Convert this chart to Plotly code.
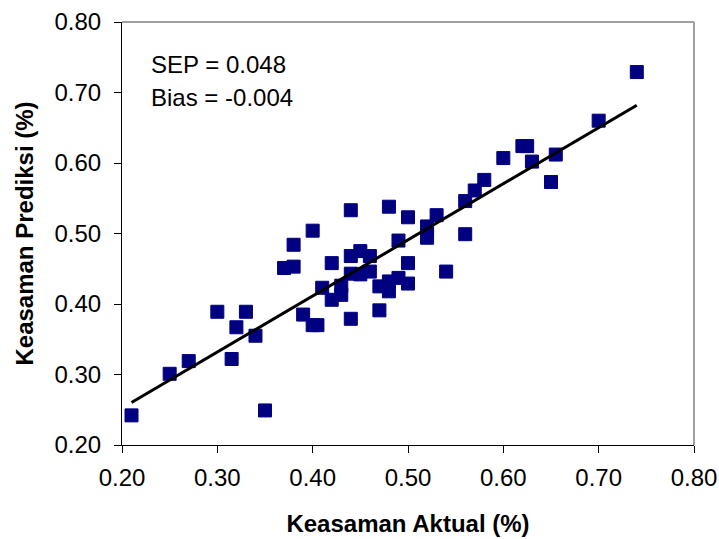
import numpy as np
import plotly.graph_objects as go

# Data
aktual = [0.21, 0.25, 0.27, 0.30, 0.315, 0.32, 0.33, 0.34, 0.35, 0.37,
          0.38, 0.38, 0.39, 0.40, 0.40, 0.405, 0.41, 0.42, 0.42, 0.43,
          0.43, 0.44, 0.44, 0.44, 0.44, 0.45, 0.45, 0.46, 0.46, 0.47,
          0.47, 0.48, 0.48, 0.48, 0.49, 0.49, 0.50, 0.50, 0.50, 0.52,
          0.52, 0.53, 0.54, 0.56, 0.56, 0.57, 0.58, 0.60, 0.62, 0.625,
          0.63, 0.65, 0.655, 0.70, 0.74]
prediksi = [0.242, 0.301, 0.319, 0.389, 0.322, 0.367, 0.389, 0.355, 0.249, 0.451,
            0.453, 0.484, 0.385, 0.504, 0.370, 0.370, 0.423, 0.458, 0.406, 0.426,
            0.413, 0.533, 0.468, 0.443, 0.379, 0.475, 0.442, 0.468, 0.446, 0.425,
            0.391, 0.538, 0.418, 0.432, 0.490, 0.437, 0.523, 0.458, 0.429, 0.510,
            0.494, 0.526, 0.446, 0.546, 0.499, 0.561, 0.576, 0.607, 0.624, 0.624,
            0.602, 0.573, 0.612, 0.660, 0.729]
tick_vals = [0.20, 0.30, 0.40, 0.50, 0.60, 0.70, 0.80]
tick_text = ["0.20", "0.30", "0.40", "0.50", "0.60", "0.70", "0.80"]
stats_text = ["SEP = 0.048", "Bias = -0.004"]

x = np.array(aktual)
y = np.array(prediksi)
slope, intercept = np.polyfit(x, y, 1)
xl = np.array([x.min(), x.max()])
yl = slope * xl + intercept

FONT = "Liberation Sans, Arial, sans-serif"
NAVY = "#000080"

fig = go.Figure()
fig.add_trace(go.Scatter(x=aktual, y=prediksi, mode="markers",
                         marker=dict(symbol="square", size=13, color=NAVY,
                                     line=dict(color=NAVY, width=1)),
                         showlegend=False, hoverinfo="skip", cliponaxis=False))
fig.add_trace(go.Scatter(x=xl, y=yl, mode="lines",
                         line=dict(color="black", width=3),
                         showlegend=False, hoverinfo="skip"))

axis_common = dict(showgrid=False, zeroline=False, showline=True,
                   linecolor="black", linewidth=1, ticks="outside",
                   ticklen=7, tickcolor="black", tickwidth=1,
                   tickvals=tick_vals, ticktext=tick_text,
                   range=[0.20, 0.80], automargin=False,
                   tickfont=dict(family=FONT, size=24, color="black"))

fig.update_layout(
    width=719, height=539,
    margin=dict(l=122, r=25, t=22, b=94),
    paper_bgcolor="white", plot_bgcolor="white",
    font=dict(family=FONT, color="black"),
    xaxis=dict(**axis_common, ticklabelstandoff=4,
               title=dict(text="<b>Keasaman Aktual (%)</b>",
                          font=dict(family=FONT, size=24), standoff=25)),
    yaxis=dict(**axis_common, ticklabelstandoff=8,
               title=dict(text="<b>Keasaman Prediksi (%)</b>",
                          font=dict(family=FONT, size=24), standoff=14)),
)

# grey top and right border of the plot area
fig.add_shape(type="line", xref="x domain", yref="y domain",
              x0=0, x1=1, y0=1, y1=1, line=dict(color="#a0a0a0", width=2))
fig.add_shape(type="line", xref="x domain", yref="y domain",
              x0=1, x1=1, y0=0, y1=1, line=dict(color="#a0a0a0", width=2))

for i, t in enumerate(stats_text):
    fig.add_annotation(text=t, xref="x domain", yref="y domain",
                       x=0.047, y=0.9 - i * 0.078, xanchor="left", yanchor="middle",
                       showarrow=False, font=dict(family=FONT, size=24, color="black"))

fig.write_html("out.html",
               config={"displayModeBar": False, "staticPlot": True},
               post_script="document.body.style.margin='0';"
                           "document.documentElement.style.overflow='hidden';")
